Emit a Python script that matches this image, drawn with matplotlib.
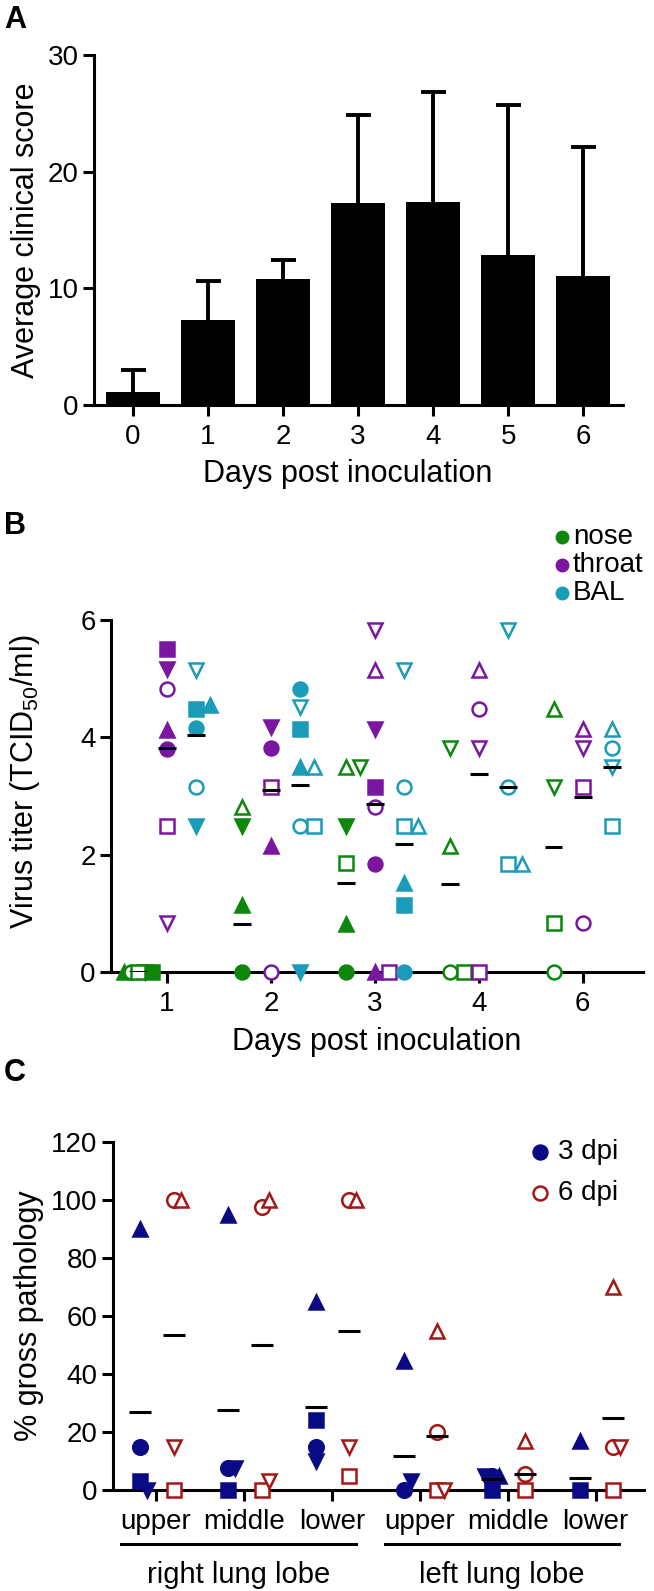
import numpy as np
import matplotlib
matplotlib.use('Agg')
import matplotlib.pyplot as plt
from matplotlib.lines import Line2D

plt.rcParams['font.family'] = ['Liberation Sans', 'DejaVu Sans']
plt.rcParams['mathtext.default'] = 'regular'

# ---------------- data ----------------
# Panel A: average clinical score (mean + SD)
days_a = ['0', '1', '2', '3', '4', '5', '6']
score_mean = [1.1, 7.3, 10.8, 17.3, 17.4, 12.9, 11.1]
score_sd = [1.9, 3.3, 1.6, 7.6, 9.4, 12.8, 11.0]

# Panel B: virus titers, one row per day, animals in order
# filled: circle, square, tri-up, tri-down / open: circle, square, tri-up, tri-down
days_b = ['1', '2', '3', '4', '6']
nan = np.nan
nose = [
    [0, 0, 0, 0, 0, 0, nan, nan],
    [0, nan, 1.15, 2.49, nan, nan, 2.82, nan],
    [0, nan, 0.82, 2.49, nan, 1.85, 3.49, 3.49],
    [nan, nan, nan, nan, 0, 0, 2.15, 3.81],
    [nan, nan, nan, nan, 0, 0.83, 4.48, 3.16],
]
throat = [
    [3.80, 5.50, 4.12, 5.16, 4.82, 2.49, nan, 0.84],
    [3.81, nan, 2.14, 4.18, 0, 3.16, nan, nan],
    [1.84, 3.16, 0, 4.15, 2.82, 0, 5.15, 5.83],
    [nan, nan, nan, nan, 4.49, 0, 5.15, 3.81],
    [nan, nan, nan, nan, 0.83, 3.16, 4.14, 3.81],
]
bal = [
    [4.16, 4.49, 4.55, 2.49, 3.16, nan, nan, 5.15],
    [4.82, 4.15, 3.49, 0, 2.49, 2.49, 3.49, 4.52],
    [0, 1.15, 1.51, nan, 3.16, 2.49, 2.49, 5.15],
    [nan, nan, nan, nan, 3.16, 1.84, 1.84, 5.83],
    [nan, nan, nan, nan, 3.81, 2.49, 4.14, 3.49],
]
nose_mean = [0, 0.82, 1.52, 1.50, 2.13]
throat_mean = [3.82, 3.10, 2.86, 3.37, 2.99]
bal_mean = [4.04, 3.18, 2.18, 3.16, 3.49]
tissues = ['nose', 'throat', 'BAL']

# Panel C: % gross pathology per lobe, animals circle, square, tri-up, tri-down
lobes = ['upper', 'middle', 'lower', 'upper', 'middle', 'lower']
sides = ['right lung lobe', 'left lung lobe']
dpi3 = [
    [15, 3, 90, 0],
    [7.5, 0, 95, 7.5],
    [15, 24, 65, 10],
    [0, nan, 44.5, 3],
    [5, 0, 5, 5],
    [nan, 0, 17, nan],
]
dpi6 = [
    [100, 0, 100, 15],
    [97.5, 0, 100, 3],
    [100, 5, 100, 15],
    [20, 0, 55, 0],
    [5.5, 0, 17, nan],
    [15, 0, 70, 15],
]
dpi3_mean = [27, 27.5, 28.5, 11.7, 3.8, 4.3]
dpi6_mean = [53.5, 50, 55, 18.6, 5.5, 25]
groups_c = ['3 dpi', '6 dpi']

# ---------------- style ----------------
W, H = 654, 1591
fig = plt.figure(figsize=(W / 100, H / 100), dpi=100)

green, purple, teal = '#0C870C', '#7A169F', '#1A9BB8'
navy, red = '#0A0A84', '#A51616'
shapes8 = ['o', 's', '^', 'v', 'o', 's', '^', 'v']
filled8 = [True] * 4 + [False] * 4
shapes4 = ['o', 's', '^', 'v']
TICK, LAB, LEG = 20, 22, 20


def px_axes(left, top, right, bottom):
    return fig.add_axes([left / W, 1 - bottom / H, (right - left) / W, (bottom - top) / H])


def style(ax):
    for s in ['top', 'right']:
        ax.spines[s].set_visible(False)
    for s in ['left', 'bottom']:
        ax.spines[s].set_linewidth(2.2)
    ax.tick_params(width=2.2, length=8, labelsize=TICK)
    ax.tick_params(axis='x', pad=6)
    ax.tick_params(axis='y', pad=3)


def swarm(ax, xc, ys, size_px, max_px):
    # simple beeswarm in pixel space, returns x positions in data units
    ys = np.asarray(ys, float)
    pts = ax.transData.transform(np.column_stack([np.full(len(ys), xc), ys]))
    ppx = ax.transData.transform((1, 0))[0] - ax.transData.transform((0, 0))[0]
    step = size_px * 0.5
    cands = [0.0]
    for k in range(1, 12):
        cands += [k * step, -k * step]
    placed, xs = [], []
    for px, py in pts:
        best, bestd = 0.0, -1
        for c in cands:
            if abs(c) > max_px:
                continue
            d = min([np.hypot(c - qx, py - qy) for qx, qy in placed], default=np.inf)
            if d >= size_px * 0.95:
                best = c
                break
            if d > bestd:
                bestd, best = d, c
        placed.append((best, py))
        xs.append(xc + best / ppx)
    return xs


# ---------------- A ----------------
axA = px_axes(94, 55, 623, 405)
xa = np.arange(len(days_a))
axA.bar(xa, score_mean, width=0.72, color='black', zorder=2)
eb = axA.errorbar(xa, score_mean, yerr=[np.zeros(len(xa)), score_sd], fmt='none',
                  ecolor='black', elinewidth=2.8, capsize=9, capthick=2.8, zorder=2)
for cap in eb[1]:
    if np.allclose(cap.get_ydata(), score_mean):
        cap.set_visible(False)
axA.set_xlim(-0.52, 6.53)
axA.set_ylim(0, 30)
axA.set_yticks([0, 10, 20, 30])
axA.set_xticks(xa)
axA.set_xticklabels(days_a)
style(axA)
axA.set_ylabel('Average clinical score', fontsize=LAB)
axA.yaxis.set_label_coords(-0.1, 0.5)
axA.set_xlabel('Days post inoculation', fontsize=LAB)
axA.xaxis.set_label_coords(0.48, -0.155)
fig.text(4 / W, 1 - 5 / H, 'A', fontsize=22, fontweight='bold', va='top')

# ---------------- B ----------------
axB = px_axes(111, 620, 643, 972)
axB.set_xlim(-0.54, 4.58)
axB.set_ylim(0, 6)
axB.set_yticks([0, 2, 4, 6])
xb = np.arange(len(days_b))
axB.set_xticks(xb)
axB.set_xticklabels(days_b)
style(axB)

offs_b = [-0.28, 0.0, 0.28]
for data, means, col, off in zip([nose, throat, bal], [nose_mean, throat_mean, bal_mean],
                                 [green, purple, teal], offs_b):
    for i, row in enumerate(data):
        idx = [k for k, v in enumerate(row) if not np.isnan(v)]
        vals = [row[k] for k in idx]
        xs = swarm(axB, xb[i] + off, vals, 14, 18)
        for k, x, v in zip(idx, xs, vals):
            axB.plot(x, v, marker=shapes8[k], ms=10, mew=1.8, ls='none',
                     mec=col, mfc=col if filled8[k] else 'white',
                     clip_on=False, zorder=3)
        axB.hlines(means[i], xb[i] + off - 0.085, xb[i] + off + 0.085,
                   color='black', lw=2.2, zorder=4)

axB.set_ylabel('Virus titer (TCID$_{50}$/ml)', fontsize=LAB)
axB.yaxis.set_label_coords(-0.13, 0.54)
axB.set_xlabel('Days post inoculation', fontsize=LAB)
axB.xaxis.set_label_coords(0.5, -0.155)
fig.text(4 / W, 1 - 511 / H, 'B', fontsize=22, fontweight='bold', va='top')

for j, (name, col) in enumerate(zip(tissues, [green, purple, teal])):
    y = 1 - (537 + 28 * j) / H
    fig.add_artist(Line2D([562 / W], [y], marker='o', ms=9, color=col,
                          transform=fig.transFigure))
    fig.text(573 / W, y, name, fontsize=LEG, va='center')

# ---------------- C ----------------
axC = px_axes(113, 1142, 644, 1490)
axC.set_xlim(-0.49, 5.55)
axC.set_ylim(0, 120)
axC.set_yticks(np.arange(0, 121, 20))
xc = np.arange(len(lobes))
axC.set_xticks(xc)
axC.set_xticklabels(lobes, fontsize=21)
style(axC)

for data, means, col, off, filled in zip([dpi3, dpi6], [dpi3_mean, dpi6_mean],
                                         [navy, red], [-0.18, 0.2], [True, False]):
    for i, row in enumerate(data):
        idx = [k for k, v in enumerate(row) if not np.isnan(v)]
        vals = [row[k] for k in idx]
        xs = swarm(axC, xc[i] + off, vals, 14, 13)
        for k, x, v in zip(idx, xs, vals):
            axC.plot(x, v, marker=shapes4[k], ms=10.5, mew=1.8, ls='none',
                     mec=col, mfc=col if filled else 'white',
                     clip_on=False, zorder=3)
        axC.hlines(means[i], xc[i] + off - 0.125, xc[i] + off + 0.125,
                   color='black', lw=2.2, zorder=4)

axC.set_ylabel('% gross pathology', fontsize=LAB)
axC.yaxis.set_label_coords(-0.13, 0.5)
fig.text(4 / W, 1 - 1058 / H, 'C', fontsize=22, fontweight='bold', va='top')

trans = axC.get_xaxis_transform()
for j, name in enumerate(sides):
    x0, x1 = xc[3 * j] - 0.4, xc[3 * j + 2] + 0.27
    axC.add_line(Line2D([x0, x1], [-0.155, -0.155], color='black', lw=2.2,
                        transform=trans, clip_on=False))
    axC.text((x0 + x1) / 2, -0.245, name, transform=trans, fontsize=21,
             ha='center', va='center')

for j, (name, col) in enumerate(zip(groups_c, [navy, red])):
    y = 1 - (1152 + 41 * j) / H
    fig.add_artist(Line2D([540 / W], [y], marker='o', ms=10, mew=1.8, color=col,
                          mfc=col if j == 0 else 'white', transform=fig.transFigure))
    fig.text(558 / W, y, name, fontsize=LEG, va='center')

fig.savefig('out.png', dpi=100)
